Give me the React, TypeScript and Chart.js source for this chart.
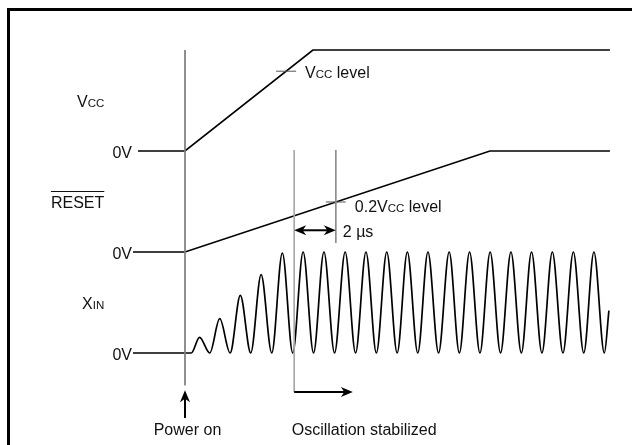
import React, { useEffect, useRef } from "react";
import { Chart, registerables } from "chart.js";

Chart.register(...registerables);

// Time axis in µs (0 = power on). Level axis in lanes: XIN 0..1, RESET 1..2, VCC 2..3.
const vccTime = [-2.26, 0, 6.15, 20.43];
const vccLevel = [2, 2, 3, 3];
const resetTime = [-2.5, 0, 14.66, 20.43];
const resetLevel = [1, 1, 2, 2];

const xinLeadTime = [-2.5, 0.3];
const xinLeadLevel = [0, 0];
const xinPeakTime = [0.7, 1.67, 2.66, 3.66, 4.68, 5.68, 6.68, 7.7, 8.7, 9.7, 10.69, 11.68, 12.7, 13.68, 14.67, 15.67, 16.66, 17.66, 18.67, 19.66];
const xinPeakLevel = [0.155, 0.34, 0.57, 0.775, 0.99, 1, 1, 1, 1, 1, 1, 1, 1, 1, 1, 1, 1, 1, 1, 1];
const xinTroughTime = [1.19, 2.17, 3.16, 4.17, 5.18, 6.18, 7.19, 8.2, 9.2, 10.2, 11.19, 12.19, 13.19, 14.18, 15.17, 16.17, 17.16, 18.17, 19.17, 20.16];
const xinTroughLevel = 0;
const xinTailTime = 20.38;
const xinTailLevel = 0.42;

const powerOnTime = 0;
const powerOnGuide = [3, -0.32];
const stabilizedTime = 5.25;
const stabilizedGuide = [2.01, -0.386];
const twoMicroEndTime = 7.25;
const twoMicroGuide = [2.01, 1.09];
const twoMicroArrowLevel = 1.215;
const stabilizedArrowEndTime = 8.07;
const powerOnArrowLevels = [-0.644, -0.37];

const vccMarkTime = 4.86;
const vccMarkLevel = 2.79;
const resetMarkTime = 7.25;
const resetMarkLevel = 1.495;
const markHalfWidth = 0.48;

const laneBases = [2, 1, 0];
const laneNames = [
  [{ text: "V", small: false }, { text: "CC", small: true }],
  [{ text: "RESET", small: false }],
  [{ text: "X", small: false }, { text: "IN", small: true }],
];
const laneOverline = [false, true, false];
const zeroLabel = "0V";
const vccLevelLabel = [{ text: "V", small: false }, { text: "CC", small: true }, { text: " level", small: false }];
const resetLevelLabel = [{ text: "0.2V", small: false }, { text: "CC", small: true }, { text: " level", small: false }];
const twoMicroLabel = "2 µs";
const powerOnLabel = "Power on";
const stabilizedLabel = "Oscillation stabilized";

const X_MIN = -8.894;
const X_MAX = 21.49;
const Y_MIN = -0.911;
const Y_MAX = 3.495;

const FONT_BIG = '16px "Liberation Sans", Arial, sans-serif';
const FONT_SMALL = '11.5px "Liberation Sans", Arial, sans-serif';

function pts(ts: number[], vs: number[]) {
  return ts.map((t, i) => ({ x: t, y: vs[i] }));
}

function xinPoints() {
  const out = pts(xinLeadTime, xinLeadLevel);
  xinPeakTime.forEach((t, i) => {
    out.push({ x: t, y: xinPeakLevel[i] });
    out.push({ x: xinTroughTime[i], y: xinTroughLevel });
  });
  out.push({ x: xinTailTime, y: xinTailLevel });
  return out;
}

type Part = { text: string; small: boolean };

function drawRich(ctx: CanvasRenderingContext2D, parts: Part[], x: number, y: number, align: string, overline = false) {
  let total = 0;
  const widths = parts.map((p) => {
    ctx.font = p.small ? FONT_SMALL : FONT_BIG;
    const w = ctx.measureText(p.text).width;
    total += w;
    return w;
  });
  let cx = align === "right" ? x - total : align === "center" ? x - total / 2 : x;
  const start = cx;
  ctx.textAlign = "left";
  ctx.textBaseline = "alphabetic";
  parts.forEach((p, i) => {
    ctx.font = p.small ? FONT_SMALL : FONT_BIG;
    ctx.fillText(p.text, cx, y);
    cx += widths[i];
  });
  if (overline) {
    ctx.beginPath();
    ctx.lineWidth = 1;
    ctx.moveTo(start, Math.round(y - 17) + 0.5);
    ctx.lineTo(start + total, Math.round(y - 17) + 0.5);
    ctx.stroke();
  }
}

function arrowHead(ctx: CanvasRenderingContext2D, x1: number, y1: number, x2: number, y2: number) {
  const a = Math.atan2(y2 - y1, x2 - x1);
  const len = 12;
  const half = 5;
  const notch = 8.5;
  const cos = Math.cos(a);
  const sin = Math.sin(a);
  const bx = x2 - len * cos;
  const by = y2 - len * sin;
  const nx = x2 - notch * cos;
  const ny = y2 - notch * sin;
  ctx.beginPath();
  ctx.moveTo(x2, y2);
  ctx.lineTo(bx - half * sin, by + half * cos);
  ctx.lineTo(nx, ny);
  ctx.lineTo(bx + half * sin, by - half * cos);
  ctx.closePath();
  ctx.fill();
}

function arrow(ctx: CanvasRenderingContext2D, x1: number, y1: number, x2: number, y2: number, both = false) {
  ctx.beginPath();
  ctx.lineWidth = 2;
  const a = Math.atan2(y2 - y1, x2 - x1);
  ctx.moveTo(x1 + (both ? 6 * Math.cos(a) : 0), y1 + (both ? 6 * Math.sin(a) : 0));
  ctx.lineTo(x2 - 6 * Math.cos(a), y2 - 6 * Math.sin(a));
  ctx.stroke();
  arrowHead(ctx, x1, y1, x2, y2);
  if (both) arrowHead(ctx, x2, y2, x1, y1);
}

const decorPlugin = {
  id: "decor",
  afterDatasetsDraw(chart: any) {
    const ctx: CanvasRenderingContext2D = chart.ctx;
    const xs = (t: number) => chart.scales.x.getPixelForValue(t);
    const ys = (v: number) => chart.scales.y.getPixelForValue(v);
    ctx.save();
    // frame
    ctx.strokeStyle = "#000";
    ctx.lineWidth = 3;
    ctx.strokeRect(8.5, 9.5, 700, 600);

    ctx.fillStyle = "#111";
    ctx.strokeStyle = "#111";
    // lane names and 0V labels
    laneBases.forEach((b, i) => {
      drawRich(ctx, laneNames[i], xs(-3.88), ys(b + 0.5) + 6.5, "right", laneOverline[i]);
      ctx.font = FONT_BIG;
      ctx.textAlign = "right";
      ctx.textBaseline = "alphabetic";
      ctx.fillText(zeroLabel, xs(-2.55), ys(b) + 7.5);
    });
    // level annotations
    drawRich(ctx, vccLevelLabel, xs(vccMarkTime) + 19, ys(vccMarkLevel) + 7, "left");
    drawRich(ctx, resetLevelLabel, xs(resetMarkTime) + 19, ys(resetMarkLevel) + 10, "left");
    ctx.font = FONT_BIG;
    ctx.textAlign = "left";
    ctx.fillText(twoMicroLabel, xs(twoMicroEndTime) + 7, ys(twoMicroArrowLevel) + 7);
    ctx.textAlign = "center";
    ctx.fillText(powerOnLabel, xs(powerOnTime) + 2.5, ys(-0.8) + 1);
    ctx.textAlign = "left";
    ctx.fillText(stabilizedLabel, xs(stabilizedTime) - 2.5, ys(-0.8) + 1);

    // arrows
    ctx.fillStyle = "#000";
    ctx.strokeStyle = "#000";
    arrow(ctx, xs(stabilizedTime), ys(twoMicroArrowLevel), xs(twoMicroEndTime), ys(twoMicroArrowLevel), true);
    arrow(ctx, xs(stabilizedTime), ys(stabilizedGuide[1]), xs(stabilizedArrowEndTime), ys(stabilizedGuide[1]));
    arrow(ctx, xs(powerOnTime), ys(powerOnArrowLevels[0]), xs(powerOnTime), ys(powerOnArrowLevels[1]));
    ctx.restore();
  },
};

export default function App() {
  const ref = useRef<HTMLCanvasElement | null>(null);
  useEffect(() => {
    if (!ref.current) return;
    const sig = { borderColor: "#000", borderWidth: 1.7, pointRadius: 0, showLine: true, fill: false };
    const guide = (c: string) => ({ borderColor: c, borderWidth: 1, pointRadius: 0, showLine: true, fill: false });
    const chart = new Chart(ref.current, {
      type: "scatter",
      data: {
        datasets: [
          { ...guide("#808080"), data: [{ x: powerOnTime, y: powerOnGuide[0] }, { x: powerOnTime, y: powerOnGuide[1] }] },
          { ...guide("#a8a8a8"), data: [{ x: stabilizedTime, y: stabilizedGuide[0] }, { x: stabilizedTime, y: stabilizedGuide[1] }] },
          { ...guide("#8a8a8a"), data: [{ x: twoMicroEndTime, y: twoMicroGuide[0] }, { x: twoMicroEndTime, y: twoMicroGuide[1] }] },
          { ...guide("#555"), data: [{ x: vccMarkTime - markHalfWidth, y: vccMarkLevel }, { x: vccMarkTime + markHalfWidth, y: vccMarkLevel }] },
          { ...guide("#555"), data: [{ x: resetMarkTime - markHalfWidth, y: resetMarkLevel }, { x: resetMarkTime + markHalfWidth, y: resetMarkLevel }] },
          { ...sig, data: pts(vccTime, vccLevel) },
          { ...sig, data: pts(resetTime, resetLevel) },
          { ...sig, data: xinPoints(), cubicInterpolationMode: "monotone" },
        ] as any,
      },
      options: {
        animation: false,
        responsive: false,
        maintainAspectRatio: false,
        layout: { padding: 0 },
        plugins: { legend: { display: false }, tooltip: { enabled: false } },
        events: [],
        scales: {
          x: { type: "linear", min: X_MIN, max: X_MAX, display: false },
          y: { type: "linear", min: Y_MIN, max: Y_MAX, display: false },
        },
      },
      plugins: [decorPlugin],
    });
    return () => chart.destroy();
  }, []);
  return (
    <div style={{ position: "fixed", left: 0, top: 0, width: 632, height: 445, background: "#fff" }}>
      <canvas ref={ref} width={632} height={445} style={{ display: "block" }} />
    </div>
  );
}
